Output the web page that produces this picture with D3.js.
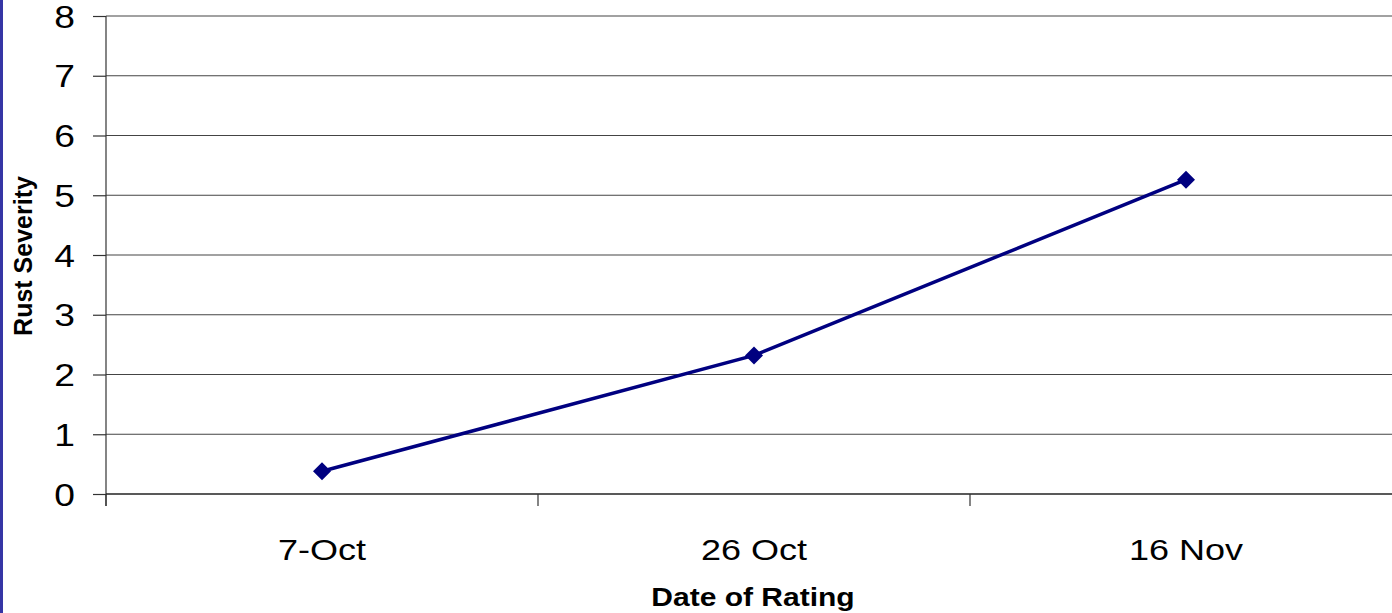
<!DOCTYPE html>
<html><head><meta charset="utf-8">
<script src="https://cdn.jsdelivr.net/npm/d3@7"></script>
<style>body{margin:0;background:#fff;overflow:hidden}svg{display:block}</style>
</head><body>
<script>
const categories = ["7-Oct", "26 Oct", "16 Nov"];
const severity = [0.38, 2.32, 5.26];
const yTicks = [0,1,2,3,4,5,6,7,8];
const xTitle = "Date of Rating";
const yTitle = "Rust Severity";

const W = 1392, H = 613;
const FONT = "Arial, 'Liberation Sans', sans-serif";
const SX = 1.2;
const svg = d3.select("body").append("svg").attr("width", W).attr("height", H);
svg.append("rect").attr("x",0).attr("y",0).attr("width",3).attr("height",H).attr("fill","#3535a5");

const x = d3.scaleBand().domain(categories).range([106, 1402]);
const y = d3.scaleLinear().domain([0, 8]).range([494, 16]);

// gridlines
svg.append("g").selectAll("line").data(yTicks.filter(d=>d>0)).join("line")
  .attr("x1",106).attr("x2",W).attr("y1",d=>y(d)).attr("y2",d=>y(d))
  .attr("stroke","#444").attr("stroke-width",1.2);

// y axis
const ya = svg.append("g").attr("transform","translate(106,0)")
  .call(d3.axisLeft(y).tickValues(yTicks).tickSize(13).tickFormat(d3.format("d")));
ya.select(".domain").attr("stroke","#333").attr("stroke-width",1.2).attr("d","M0,16V506");
ya.selectAll(".tick line").attr("stroke","#333").attr("stroke-width",1.2);
ya.selectAll("text").attr("font-family",FONT).attr("font-size",31).attr("fill","#000")
  .attr("x",-31/SX).attr("dy","0.36em").attr("transform",`scale(${SX},1)`);

// x axis
const xa = svg.append("g").attr("transform","translate(0,494)")
  .call(d3.axisBottom(x).tickSize(0).tickPadding(45));
xa.select(".domain").attr("stroke","#222").attr("stroke-width",1.5).attr("d","M106,0H1402");
xa.selectAll("text").attr("font-family",FONT).attr("font-size",30).attr("fill","#000")
  .attr("transform",`scale(${SX},1)`);
// x tick marks between categories
svg.append("g").selectAll("line").data([0,1,2,3]).join("line")
  .attr("x1",i=>106 + i*x.step()).attr("x2",i=>106 + i*x.step())
  .attr("y1",494).attr("y2",506).attr("stroke","#333").attr("stroke-width",1.2);

// line
const cx = (d,i)=>x(categories[i]) + x.bandwidth()/2;
svg.append("path").datum(severity)
  .attr("d", d3.line().x((d,i)=>cx(d,i)).y(d=>y(d)))
  .attr("fill","none").attr("stroke","#000080").attr("stroke-width",3.5);
svg.append("g").selectAll("path").data(severity).join("path")
  .attr("transform",(d,i)=>`translate(${cx(d,i)},${y(d)})`)
  .attr("d","M0,-9L9,0L0,9L-9,0Z").attr("fill","#000080");

// titles
svg.append("text").attr("transform",`translate(753,606) scale(${SX},1)`).attr("text-anchor","middle")
  .attr("font-family",FONT).attr("font-weight","bold").attr("font-size",25).text(xTitle);
svg.append("text").attr("transform","translate(32,256) rotate(-90)").attr("text-anchor","middle")
  .attr("font-family",FONT).attr("font-weight","bold").attr("font-size",25).text(yTitle);
</script>
</body></html>
